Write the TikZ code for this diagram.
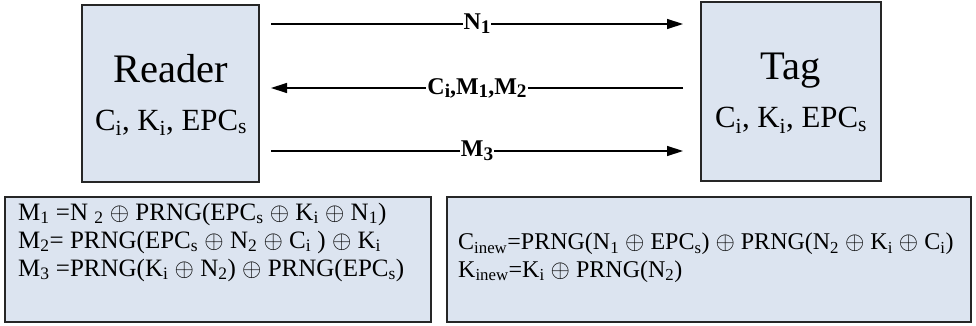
\documentclass[tikz,border=0pt]{standalone}
\usepackage{fontspec}
\setmainfont{Liberation Serif}
\usetikzlibrary{arrows.meta}
\definecolor{boxfill}{RGB}{220,228,240}
\newcommand{\bsub}[1]{\raisebox{-0.35ex}{\scalebox{0.8}{#1}}}
\begin{document}
\begin{tikzpicture}[x=1pt,y=-1pt,
  box/.style={draw=black!85, line width=1.2pt, fill=boxfill, inner sep=0pt},
  arr/.style={line width=1.3pt, -{Triangle[length=16pt,width=10pt]}},
  lab/.style={fill=white, inner sep=1pt, font=\bfseries\fontsize{24}{24}\selectfont},
  big/.style={font=\fontsize{40.5}{40.5}\selectfont, anchor=base, inner sep=0pt},
  mid/.style={font=\fontsize{30.8}{30.8}\selectfont, anchor=base, inner sep=0pt},
  eq/.style={font=\fontsize{25}{28}\selectfont, align=left, anchor=base west, inner sep=0pt},
  eqr/.style={font=\fontsize{24}{27.5}\selectfont, align=left, anchor=base west, inner sep=0pt}]
\useasboundingbox (0,0) rectangle (976,326);
% top boxes
\node[box, minimum width=177pt, minimum height=177pt] (reader) at (170.5,93.5) {};
\node[box, minimum width=180pt, minimum height=179pt] (tag) at (791,91.5) {};
\node[big] (readert) at (170.5,83) {Reader};
\node[mid] (readerk) at (171,130) {C\textsubscript{i}, K\textsubscript{i}, EPC\textsubscript{s}};
\node[big] (tagt) at (791,80) {Tag};
\node[mid] (tagk) at (791,128) {C\textsubscript{i}, K\textsubscript{i}, EPC\textsubscript{s}};
% arrow ends
\coordinate (a1) at (271,24);  \coordinate (b1) at (683,24);
\coordinate (a2) at (683,88);  \coordinate (b2) at (271,88);
\coordinate (a3) at (271,151); \coordinate (b3) at (683,151);
\draw[arr] (a1) -- node[lab] (l1) {N\bsub{1}} (b1);
\draw[arr] (a2) -- node[lab] (l2) {C\bsub{i},M\bsub{1},M\bsub{2}} (b2);
\draw[arr] (a3) -- node[lab] (l3) {M\bsub{3}} (b3);
% bottom boxes
\node[box, minimum width=426pt, minimum height=125pt] (left) at (218,259.5) {};
\node[box, minimum width=524pt, minimum height=125pt] (right) at (709,259.5) {};
\node[eq] (eqs) at (18,276) {M\textsubscript{1} =N \textsubscript{2} $\oplus$ PRNG(EPC\textsubscript{s} $\oplus$ K\textsubscript{i} $\oplus$ N\textsubscript{1})\\
M\textsubscript{2}= PRNG(EPC\textsubscript{s} $\oplus$ N\textsubscript{2} $\oplus$ C\textsubscript{i} ) $\oplus$ K\textsubscript{i}\\
M\textsubscript{3} =PRNG(K\textsubscript{i} $\oplus$ N\textsubscript{2}) $\oplus$ PRNG(EPC\textsubscript{s})};
\node[eqr] (upd) at (458,277) {C\textsubscript{inew}=PRNG(N\textsubscript{1} $\oplus$ EPC\textsubscript{s}) $\oplus$ PRNG(N\textsubscript{2} $\oplus$ K\textsubscript{i} $\oplus$ C\textsubscript{i})\\
K\textsubscript{inew}=K\textsubscript{i} $\oplus$ PRNG(N\textsubscript{2})};
\end{tikzpicture}
\end{document}
